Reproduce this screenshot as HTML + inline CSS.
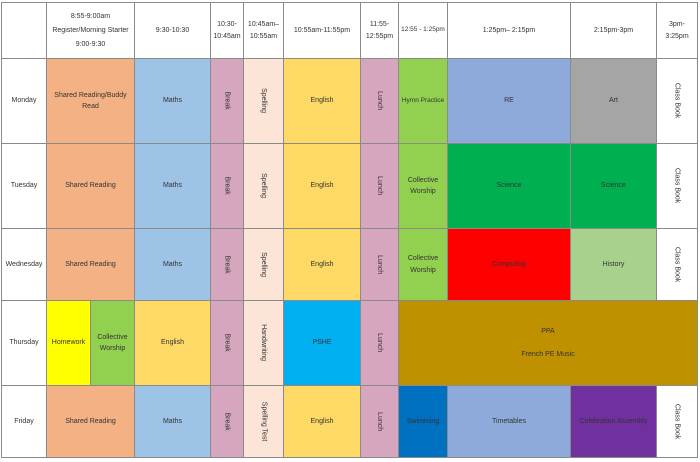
<!DOCTYPE html><html><head><style>
body{margin:0;background:#fff;width:700px;height:462px;position:relative;overflow:hidden;font-family:"Liberation Sans",sans-serif;}
.c{position:absolute;box-sizing:border-box;border:1px solid #8a8a8a;display:flex;align-items:center;justify-content:center;text-align:center;font-size:7px;color:#333;line-height:1.6;margin-left:-1px;margin-top:-1px}
.r span{transform:rotate(90deg);white-space:nowrap;display:block}
</style></head><body>
<!-- header -->
<div class="c" style="left:2px;top:3px;width:46px;height:57px"></div>
<div class="c" style="left:47px;top:3px;width:89px;height:57px;line-height:2">8:55-9:00am<br>Register/Morning Starter<br>9:00-9:30</div>
<div class="c" style="left:135px;top:3px;width:77px;height:57px">9:30-10:30</div>
<div class="c" style="left:211px;top:3px;width:34px;height:57px">10:30-<br>10:45am</div>
<div class="c" style="left:244px;top:3px;width:41px;height:57px">10:45am–<br>10:55am</div>
<div class="c" style="left:284px;top:3px;width:78px;height:57px">10:55am-11:55pm</div>
<div class="c" style="left:361px;top:3px;width:39px;height:57px">11:55-<br>12:55pm</div>
<div class="c" style="left:399px;top:3px;width:50px;height:57px;white-space:nowrap;font-size:6.5px">12:55 - 1:25pm</div>
<div class="c" style="left:448px;top:3px;width:124px;height:57px">1:25pm– 2:15pm</div>
<div class="c" style="left:571px;top:3px;width:87px;height:57px">2:15pm-3pm</div>
<div class="c" style="left:657px;top:3px;width:42px;height:57px">3pm-<br>3:25pm</div>

<!-- Monday 59-144 -->
<div class="c" style="left:2px;top:59px;width:46px;height:86px">Monday</div>
<div class="c" style="left:47px;top:59px;width:89px;height:86px;background:#f4b183">Shared Reading/Buddy<br>Read</div>
<div class="c" style="left:135px;top:59px;width:77px;height:86px;background:#9dc3e6">Maths</div>
<div class="c r" style="left:211px;top:59px;width:34px;height:86px;background:#d5a6bd"><span>Break</span></div>
<div class="c r" style="left:244px;top:59px;width:41px;height:86px;background:#fce4d6"><span>Spelling</span></div>
<div class="c" style="left:284px;top:59px;width:78px;height:86px;background:#ffd966">English</div>
<div class="c r" style="left:361px;top:59px;width:39px;height:86px;background:#d5a6bd"><span>Lunch</span></div>
<div class="c" style="left:399px;top:59px;width:50px;height:86px;background:#92d050;white-space:nowrap;font-size:6.5px">Hymn Practice</div>
<div class="c" style="left:448px;top:59px;width:124px;height:86px;background:#8eaadb">RE</div>
<div class="c" style="left:571px;top:59px;width:87px;height:86px;background:#a5a5a5">Art</div>
<div class="c r" style="left:657px;top:59px;width:42px;height:86px"><span>Class Book</span></div>

<!-- Tuesday 144-229 -->
<div class="c" style="left:2px;top:144px;width:46px;height:86px">Tuesday</div>
<div class="c" style="left:47px;top:144px;width:89px;height:86px;background:#f4b183">Shared Reading</div>
<div class="c" style="left:135px;top:144px;width:77px;height:86px;background:#9dc3e6">Maths</div>
<div class="c r" style="left:211px;top:144px;width:34px;height:86px;background:#d5a6bd"><span>Break</span></div>
<div class="c r" style="left:244px;top:144px;width:41px;height:86px;background:#fce4d6"><span>Spelling</span></div>
<div class="c" style="left:284px;top:144px;width:78px;height:86px;background:#ffd966">English</div>
<div class="c r" style="left:361px;top:144px;width:39px;height:86px;background:#d5a6bd"><span>Lunch</span></div>
<div class="c" style="left:399px;top:144px;width:50px;height:86px;background:#92d050">Collective<br>Worship</div>
<div class="c" style="left:448px;top:144px;width:124px;height:86px;background:#00b050">Science</div>
<div class="c" style="left:571px;top:144px;width:87px;height:86px;background:#00b050">Science</div>
<div class="c r" style="left:657px;top:144px;width:42px;height:86px"><span>Class Book</span></div>

<!-- Wednesday 229-301 -->
<div class="c" style="left:2px;top:229px;width:46px;height:73px">Wednesday</div>
<div class="c" style="left:47px;top:229px;width:89px;height:73px;background:#f4b183">Shared Reading</div>
<div class="c" style="left:135px;top:229px;width:77px;height:73px;background:#9dc3e6">Maths</div>
<div class="c r" style="left:211px;top:229px;width:34px;height:73px;background:#d5a6bd"><span>Break</span></div>
<div class="c r" style="left:244px;top:229px;width:41px;height:73px;background:#fce4d6"><span>Spelling</span></div>
<div class="c" style="left:284px;top:229px;width:78px;height:73px;background:#ffd966">English</div>
<div class="c r" style="left:361px;top:229px;width:39px;height:73px;background:#d5a6bd"><span>Lunch</span></div>
<div class="c" style="left:399px;top:229px;width:50px;height:73px;background:#92d050">Collective<br>Worship</div>
<div class="c" style="left:448px;top:229px;width:124px;height:73px;background:#ff0000">Computing</div>
<div class="c" style="left:571px;top:229px;width:87px;height:73px;background:#a9d18e">History</div>
<div class="c r" style="left:657px;top:229px;width:42px;height:73px"><span>Class Book</span></div>

<!-- Thursday 301-386 -->
<div class="c" style="left:2px;top:301px;width:46px;height:86px">Thursday</div>
<div class="c" style="left:47px;top:301px;width:45px;height:86px;background:#ffff00">Homework</div>
<div class="c" style="left:91px;top:301px;width:45px;height:86px;background:#92d050">Collective<br>Worship</div>
<div class="c" style="left:135px;top:301px;width:77px;height:86px;background:#ffd966">English</div>
<div class="c r" style="left:211px;top:301px;width:34px;height:86px;background:#d5a6bd"><span>Break</span></div>
<div class="c r" style="left:244px;top:301px;width:41px;height:86px;background:#fce4d6"><span>Handwriting</span></div>
<div class="c" style="left:284px;top:301px;width:78px;height:86px;background:#00b0f0">PSHE</div>
<div class="c r" style="left:361px;top:301px;width:39px;height:86px;background:#d5a6bd"><span>Lunch</span></div>
<div class="c" style="left:399px;top:301px;width:300px;height:86px;background:#bf9000;flex-direction:column;justify-content:space-around;padding:6px 0">PPA<br><br>French PE Music</div>

<!-- Friday 386-458 -->
<div class="c" style="left:2px;top:386px;width:46px;height:73px">Friday</div>
<div class="c" style="left:47px;top:386px;width:89px;height:73px;background:#f4b183">Shared Reading</div>
<div class="c" style="left:135px;top:386px;width:77px;height:73px;background:#9dc3e6">Maths</div>
<div class="c r" style="left:211px;top:386px;width:34px;height:73px;background:#d5a6bd"><span>Break</span></div>
<div class="c r" style="left:244px;top:386px;width:41px;height:73px;background:#fce4d6"><span>Spelling Test</span></div>
<div class="c" style="left:284px;top:386px;width:78px;height:73px;background:#ffd966">English</div>
<div class="c r" style="left:361px;top:386px;width:39px;height:73px;background:#d5a6bd"><span>Lunch</span></div>
<div class="c" style="left:399px;top:386px;width:50px;height:73px;background:#0070c0">Swimming</div>
<div class="c" style="left:448px;top:386px;width:124px;height:73px;background:#8eaadb">Timetables</div>
<div class="c" style="left:571px;top:386px;width:87px;height:73px;background:#7030a0">Celebration Assembly</div>
<div class="c r" style="left:657px;top:386px;width:42px;height:73px"><span>Class Book</span></div>
</body></html>
